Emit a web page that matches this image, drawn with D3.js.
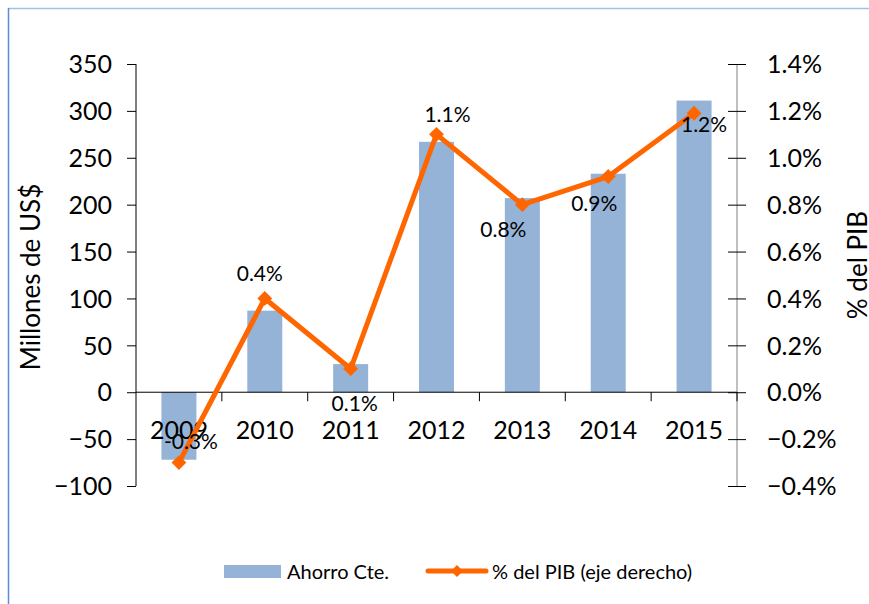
<!DOCTYPE html>
<html>
<head>
    <meta charset="utf-8">
    <script src="https://d3js.org/d3.v7.min.js"></script>
    <style>
        body { margin: 0; background: #fff; }
        svg text { font-family: Lato, "Open Sans", sans-serif; fill: #000; }
    </style>
</head>
<body>
    <svg id="chart" width="869" height="604"></svg>
    <script>
        // Data
        var years = ["2009", "2010", "2011", "2012", "2013", "2014", "2015"];
        var ahorro = [-72, 87, 30, 267, 207, 233, 311];
        var pctPib = [-0.30, 0.40, 0.10, 1.10, 0.80, 0.92, 1.19];
        var pctLabels = ["-0.3%", "0.4%", "0.1%", "1.1%", "0.8%", "0.9%", "1.2%"];
        var leftTicks = [-100, -50, 0, 50, 100, 150, 200, 250, 300, 350];
        var rightTicks = [-0.4, -0.2, 0, 0.2, 0.4, 0.6, 0.8, 1.0, 1.2, 1.4];

        // label placement (dx, dy from point)
        var labelOffsets = [[12, -14], [-5, -17], [4, 42], [11, -12], [-19, 32], [-14, 34], [10, 19]];

        var svg = d3.select("#chart");
        var pLeft = 136, pRight = 737, pTop = 64, pBottom = 486;

        // frame
        svg.append("line").attr("x1", 8).attr("x2", 869).attr("y1", 8.5).attr("y2", 8.5)
            .attr("stroke", "#a3c0e8").attr("stroke-width", 1.5);
        svg.append("line").attr("x1", 8.5).attr("x2", 8.5).attr("y1", 8).attr("y2", 604)
            .attr("stroke", "#5b8dd2").attr("stroke-width", 1.5);

        var x = d3.scaleBand().domain(years).range([pLeft, pRight]);
        var yL = d3.scaleLinear().domain([-100, 350]).range([pBottom, pTop]);
        var yR = d3.scaleLinear().domain([-0.4, 1.4]).range([pBottom, pTop]);

        // bars
        var barW = 35;
        svg.selectAll("rect.bar")
            .data(ahorro)
            .enter()
            .append("rect")
            .attr("class", "bar")
            .attr("x", function (d, i) { return x(years[i]) + x.bandwidth() / 2 - barW / 2; })
            .attr("y", function (d) { return yL(Math.max(0, d)); })
            .attr("width", barW)
            .attr("height", function (d) { return Math.abs(yL(d) - yL(0)); })
            .attr("fill", "#95b3d7");

        // left axis
        var axL = svg.append("g").attr("transform", "translate(" + pLeft + ",0)")
            .call(d3.axisLeft(yL).tickValues(leftTicks).tickSize(9).tickPadding(15));
        axL.selectAll("text").style("font-size", "25px").attr("dy", "0.35em");

        // right axis
        var axR = svg.append("g").attr("transform", "translate(" + pRight + ",0)")
            .call(d3.axisRight(yR).tickValues(rightTicks).tickSize(9).tickPadding(21)
                .tickFormat(function (d) { return d3.format(".1f")(d) + "%"; }));
        axR.selectAll(".tick line").attr("x1", -9);
        axR.selectAll("text").style("font-size", "25px").attr("dy", "0.35em");

        [axL, axR].forEach(function (a) {
            a.selectAll(".tick line").attr("stroke", "#000");
        });
        axL.select(".domain").attr("d", "M0," + pBottom + "V" + pTop).attr("stroke", "#000");
        axR.select(".domain").attr("d", "M0," + pBottom + "V" + pTop).attr("stroke", "#808080");

        // x axis at zero
        var y0 = yL(0);
        svg.append("line").attr("x1", pLeft).attr("x2", pRight).attr("y1", y0).attr("y2", y0)
            .attr("stroke", "#000");
        svg.selectAll("line.xtick")
            .data(years.slice(1))
            .enter()
            .append("line")
            .attr("class", "xtick")
            .attr("x1", function (d) { return x(d); })
            .attr("x2", function (d) { return x(d); })
            .attr("y1", y0).attr("y2", y0 + 9)
            .attr("stroke", "#000");
        svg.append("line").attr("x1", pRight).attr("x2", pRight).attr("y1", y0).attr("y2", y0 + 9)
            .attr("stroke", "#000");
        svg.selectAll("text.year")
            .data(years)
            .enter()
            .append("text")
            .attr("class", "year")
            .attr("x", function (d) { return x(d) + x.bandwidth() / 2; })
            .attr("y", y0 + 47)
            .attr("text-anchor", "middle")
            .style("font-size", "25px")
            .text(function (d) { return d; });

        // line series
        var line = d3.line()
            .x(function (d, i) { return x(years[i]) + x.bandwidth() / 2; })
            .y(function (d) { return yR(d); });
        svg.append("path")
            .datum(pctPib)
            .attr("d", line)
            .attr("fill", "none")
            .attr("stroke", "#ff6600")
            .attr("stroke-width", 5)
            .attr("stroke-linejoin", "round");
        svg.selectAll("path.marker")
            .data(pctPib)
            .enter()
            .append("path")
            .attr("class", "marker")
            .attr("d", d3.symbol().type(d3.symbolDiamond2).size(140))
            .attr("transform", function (d, i) {
                return "translate(" + (x(years[i]) + x.bandwidth() / 2) + "," + yR(d) + ")";
            })
            .attr("fill", "#ff6600");

        // data labels
        svg.selectAll("text.dlabel")
            .data(pctPib)
            .enter()
            .append("text")
            .attr("class", "dlabel")
            .attr("x", function (d, i) { return x(years[i]) + x.bandwidth() / 2 + labelOffsets[i][0]; })
            .attr("y", function (d, i) { return yR(d) + labelOffsets[i][1]; })
            .attr("text-anchor", "middle")
            .style("font-size", "21px")
            .text(function (d, i) { return pctLabels[i]; });

        // axis titles
        svg.append("text")
            .attr("transform", "translate(40,277) rotate(-90)")
            .attr("text-anchor", "middle")
            .style("font-size", "26px")
            .text("Millones de US$");
        svg.append("text")
            .attr("transform", "translate(867,265) rotate(-90)")
            .attr("text-anchor", "middle")
            .style("font-size", "26px")
            .text("% del PIB");

        // legend
        var lg = svg.append("g");
        lg.append("rect").attr("x", 224).attr("y", 565).attr("width", 57).attr("height", 13)
            .attr("fill", "#95b3d7");
        lg.append("text").attr("x", 287).attr("y", 579).style("font-size", "20px").text("Ahorro Cte.");
        lg.append("line").attr("x1", 428).attr("x2", 486).attr("y1", 571).attr("y2", 571)
            .attr("stroke", "#ff6600").attr("stroke-width", 5).attr("stroke-linecap", "round");
        lg.append("path").attr("d", d3.symbol().type(d3.symbolDiamond2).size(90))
            .attr("transform", "translate(457,571)").attr("fill", "#ff6600");
        lg.append("text").attr("x", 492).attr("y", 579).style("font-size", "20px").text("% del PIB (eje derecho)");
    </script>
</body>
</html>
